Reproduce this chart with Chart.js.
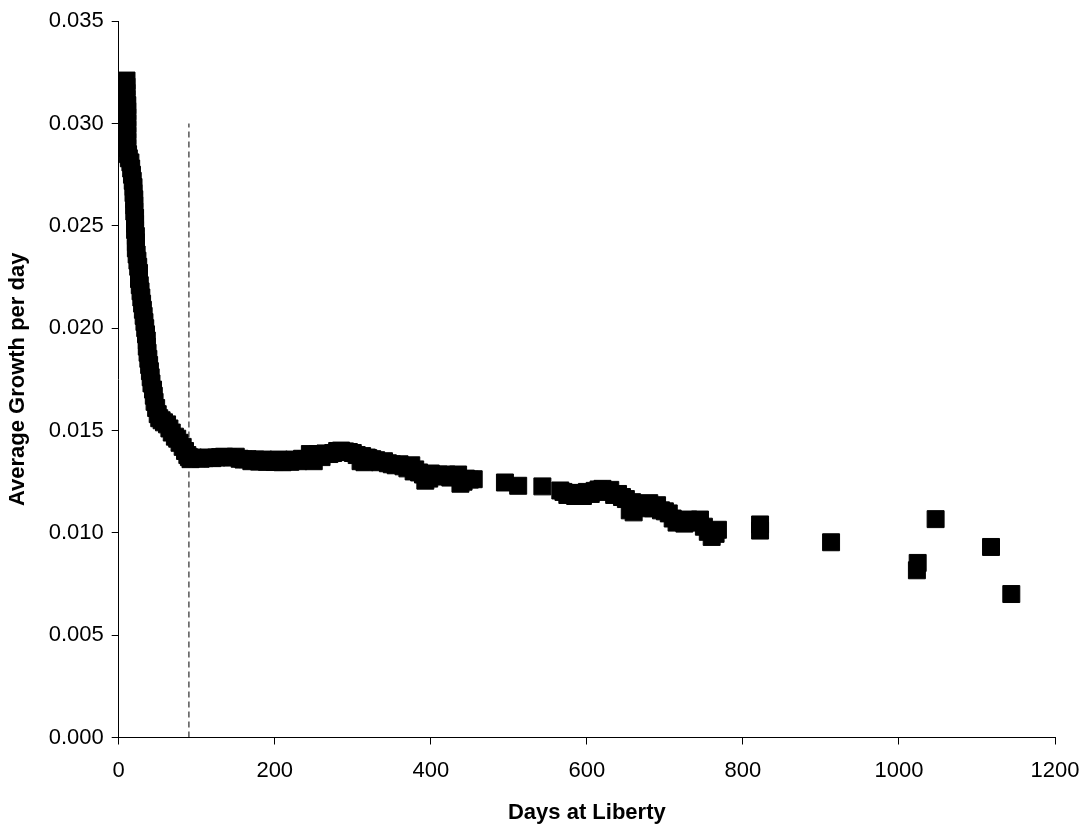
<!DOCTYPE html>
<html>
<head>
<meta charset="utf-8">
<script src="https://cdn.jsdelivr.net/npm/chart.js@4.4.1/dist/chart.umd.min.js"></script>
<style>
  body { margin: 0; background: #fff; }
  #wrap { width: 1087px; height: 829px; }
</style>
</head>
<body>
<div id="wrap"><canvas id="growthChart"></canvas></div>
<script>
// days at liberty for each tag return
const days = [
  10, 10, 10, 10, 11, 11, 11, 11, 11, 11, 11, 11, 12, 13, 15, 16, 17, 18, 19, 19,
  20, 20, 20, 21, 21, 21, 22, 22, 22, 23, 24, 25, 26, 26, 27, 28, 29, 30, 31, 32,
  33, 34, 35, 36, 36, 37, 38, 39, 40, 41, 42, 44, 45, 46, 48, 50, 52, 55, 58, 62,
  65, 68, 72, 75, 78, 82, 85, 88, 90, 92,
  95, 100, 105, 110, 115, 120, 125, 130, 135, 140, 145, 150, 155, 160, 165, 170,
  175, 180, 185, 190, 195, 200, 205, 210, 215, 220, 225, 230, 235, 240, 245, 250,
  255, 260, 265, 270, 275, 280, 285, 290, 295, 300, 305, 310, 312, 315, 318,
  320, 325, 330, 335, 340, 345, 350, 355, 360, 365, 370, 375, 378, 380, 385, 390,
  393, 398, 400, 405, 410, 415, 420, 425, 430, 435, 438, 442, 445, 450, 455,
  495, 512, 543, 566,
  570, 575, 580, 585, 590, 595, 600, 605, 610, 615, 620, 625, 630, 635, 640, 645,
  650, 655, 658, 660, 665, 670, 675, 680, 685, 690, 695, 700, 705, 710, 715, 720,
  725, 730, 735, 740, 745, 750, 755, 760, 765, 768,
  822, 822, 913, 1023, 1024, 1047, 1118, 1144
];

// average growth per day, same order as days
const growth = [
  0.0321, 0.0318, 0.0315, 0.0312, 0.0309, 0.0306, 0.0303, 0.0300, 0.0297, 0.0294,
  0.0291, 0.0288, 0.0285, 0.0283, 0.0281, 0.0278, 0.0275, 0.0272, 0.0269, 0.0266,
  0.0263, 0.0260, 0.0257, 0.0254, 0.0251, 0.0248, 0.0245, 0.0242, 0.0239, 0.0236,
  0.0233, 0.0230, 0.0227, 0.0224, 0.0221, 0.0218, 0.0215, 0.0212, 0.0209, 0.0206,
  0.0203, 0.0200, 0.0197, 0.0194, 0.0191, 0.0188, 0.0185, 0.0182, 0.0179, 0.0176,
  0.0173, 0.0170, 0.0167, 0.0164, 0.0161, 0.0158, 0.0156, 0.0155, 0.0154, 0.0153,
  0.0151, 0.0149, 0.0147, 0.0146, 0.0144, 0.0142, 0.0140, 0.0138, 0.0137, 0.0136,
  0.01368, 0.01365, 0.01362, 0.01365, 0.01368, 0.01365, 0.01368, 0.01370, 0.01372, 0.01370,
  0.01368, 0.01372, 0.01362, 0.01358, 0.01360, 0.01350, 0.01358, 0.01348, 0.01358, 0.01347,
  0.01356, 0.01346, 0.01358, 0.01345, 0.01356, 0.01347, 0.01358, 0.01350, 0.01362, 0.01360,
  0.01385, 0.01350, 0.01385, 0.01370, 0.01388, 0.01385, 0.01390, 0.01400, 0.01402, 0.01398,
  0.01395, 0.01390, 0.01380, 0.01350, 0.01375, 0.01345, 0.01368,
  0.01365, 0.01360, 0.01355, 0.01345, 0.01350, 0.01340, 0.01335, 0.01330, 0.01335, 0.01325,
  0.01315, 0.01330, 0.01300, 0.01310, 0.01295, 0.01285, 0.01255, 0.01265, 0.01290, 0.01280,
  0.01285, 0.01275, 0.01285, 0.01270, 0.01280, 0.01285, 0.01240, 0.01250, 0.01265, 0.01260,
  0.01262,
  0.01246, 0.01230, 0.01227, 0.01207,
  0.01200, 0.01185, 0.01195, 0.01180, 0.01195, 0.01180, 0.01200, 0.01190, 0.01205, 0.01212,
  0.01215, 0.01200, 0.01210, 0.01185, 0.01190, 0.01175, 0.01165, 0.01110, 0.01150, 0.01100,
  0.01130, 0.01140, 0.01120, 0.01145, 0.01120, 0.01135, 0.01110, 0.01105, 0.01095, 0.01070,
  0.01050, 0.01055, 0.01045, 0.01065, 0.01060, 0.01050, 0.01065, 0.01030, 0.01005, 0.00980,
  0.00995, 0.01015,
  0.01041, 0.01011, 0.00954, 0.00817, 0.00853, 0.01067, 0.00931, 0.00701
];

// dashed cut-off line
const cutoffDay = 90;
const cutoffRange = [0, 0.030];

const points = days.map((d, i) => ({ x: d, y: growth[i] }));
const cutoffLine = cutoffRange.map(v => ({ x: cutoffDay, y: v }));

const FONT = "'Liberation Sans', Arial, sans-serif";
Chart.defaults.font.family = FONT;
Chart.defaults.color = '#000';

const ctx = document.getElementById('growthChart').getContext('2d');

const growthChart = new Chart(ctx, {
    type: 'scatter',
    data: {
        datasets: [{
            label: 'growth',
            data: points,
            pointStyle: 'rect',
            pointRadius: 12,
            pointBackgroundColor: '#000',
            pointBorderColor: '#000',
            pointBorderWidth: 1,
            order: 1
        }, {
            type: 'line',
            label: 'cutoff',
            data: cutoffLine,
            borderColor: '#000',
            borderWidth: 1,
            borderDash: [6, 4],
            pointRadius: 0,
            fill: false,
            order: 2
        }]
    },
    options: {
        responsive: true,
        maintainAspectRatio: false,
        animation: false,
        layout: { padding: { top: 16, right: 32, left: 0, bottom: 0 } },
        plugins: {
            legend: { display: false },
            tooltip: { enabled: false }
        },
        scales: {
            x: {
                type: 'linear',
                min: 0,
                max: 1200,
                ticks: {
                    stepSize: 200,
                    padding: 13,
                    font: { size: 22 },
                    callback: v => String(v)
                },
                grid: { drawOnChartArea: false, drawTicks: true, tickLength: 7, color: '#000' },
                border: { color: '#000', width: 1 },
                title: {
                    display: true,
                    text: 'Days at Liberty',
                    font: { size: 22, weight: 'bold' },
                    padding: { top: 3, bottom: 3 }
                },
                afterFit: scale => {
                    scale.height = 91.5;
                    scale.paddingLeft = 0;
                    scale.paddingRight = 0;
                }
            },
            y: {
                min: 0,
                max: 0.035,
                ticks: {
                    stepSize: 0.005,
                    padding: 8,
                    font: { size: 22 },
                    callback: v => v.toFixed(3)
                },
                grid: { drawOnChartArea: false, drawTicks: true, tickLength: 7, color: '#000' },
                border: { color: '#000', width: 1 },
                title: {
                    display: true,
                    text: 'Average Growth per day',
                    font: { size: 22, weight: 'bold' },
                    padding: { top: 5, bottom: 5 }
                },
                afterFit: scale => { scale.width = 118.7; }
            }
        }
    }
});
</script>
</body>
</html>
